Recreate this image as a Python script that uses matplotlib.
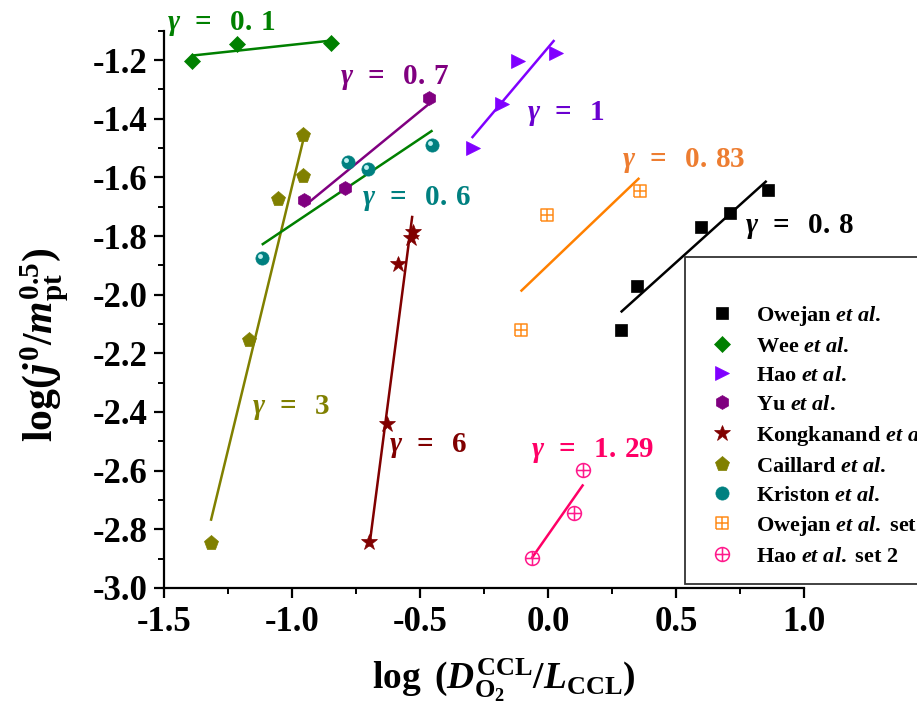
import matplotlib
matplotlib.use("Agg")
import matplotlib.pyplot as plt
import matplotlib.transforms as mtransforms
from matplotlib.path import Path
from matplotlib.patches import Rectangle
from matplotlib.lines import Line2D
from matplotlib.ticker import MultipleLocator, FormatStrFormatter

plt.rcParams["font.family"] = ["Liberation Serif", "DejaVu Serif"]
plt.rcParams["font.weight"] = "bold"
plt.rcParams["axes.unicode_minus"] = False
plt.rcParams["mathtext.fontset"] = "custom"
plt.rcParams["mathtext.rm"] = "Liberation Serif:bold"
plt.rcParams["mathtext.it"] = "Liberation Serif:italic:bold"
plt.rcParams["mathtext.bf"] = "Liberation Serif:bold"

# ---- measured data: x = log(D/L), y = log(j0/m^0.5) ----
owejan_x = [0.284, 0.346, 0.596, 0.711, 0.860]
owejan_y = [-2.120, -1.969, -1.771, -1.722, -1.643]
wee_x = [-1.392, -1.214, -0.849]
wee_y = [-1.204, -1.147, -1.141]
hao_x = [-0.294, -0.181, -0.116, 0.031]
hao_y = [-1.500, -1.351, -1.203, -1.177]
yu_x = [-0.953, -0.793, -0.465]
yu_y = [-1.676, -1.636, -1.329]
kong_x = [-0.699, -0.628, -0.585, -0.535, -0.529]
kong_y = [-2.842, -2.440, -1.895, -1.807, -1.788]
caillard_x = [-1.318, -1.168, -1.056, -0.956, -0.956]
caillard_y = [-2.848, -2.156, -1.674, -1.595, -1.455]
kriston_x = [-1.117, -0.780, -0.702, -0.454]
kriston_y = [-1.875, -1.546, -1.572, -1.489]
owejan2_x = [-0.107, -0.005, 0.359]
owejan2_y = [-2.122, -1.728, -1.646]
hao2_x = [-0.064, 0.103, 0.138]
hao2_y = [-2.899, -2.746, -2.598]

# fitted lines (end points)
owejan_fit_x, owejan_fit_y = [0.284, 0.854], [-2.060, -1.612]
wee_fit_x, wee_fit_y = [-1.392, -0.850], [-1.185, -1.134]
hao_fit_x, hao_fit_y = [-0.298, 0.025], [-1.466, -1.132]
yu_fit_x, yu_fit_y = [-0.945, -0.464], [-1.693, -1.349]
kong_fit_x, kong_fit_y = [-0.698, -0.530], [-2.859, -1.731]
caillard_fit_x, caillard_fit_y = [-1.317, -0.956], [-2.771, -1.473]
kriston_fit_x, kriston_fit_y = [-1.118, -0.451], [-1.830, -1.440]
owejan2_fit_x, owejan2_fit_y = [-0.107, 0.357], [-1.989, -1.602]
hao2_fit_x, hao2_fit_y = [-0.064, 0.138], [-2.899, -2.647]

gamma_labels = ["0.1", "0.7", "0.6", "1", "0.83", "0.8", "3", "6", "1.29"]
legend_names = ["Owejan", "Wee", "Hao", "Yu", "Kongkanand", "Caillard",
                "Kriston", "Owejan", "Hao"]
legend_suffix = ["", "", "", "", "", "", "", " set 2", " set 2"]

# ---- custom markers ----
M, L = Path.MOVETO, Path.LINETO
square_plus = Path(
    [(-1, -1), (1, -1), (1, 1), (-1, 1), (-1, -1), (0, -1), (0, 1), (-1, 0), (1, 0)],
    [M, L, L, L, L, M, L, M, L])
circle_plus = Path.make_compound_path(
    Path.unit_circle(),
    Path([(0, -1), (0, 1), (-1, 0), (1, 0)], [M, L, M, L]))

fig = plt.figure(figsize=(9.17, 7.12), dpi=100)
ax = fig.add_axes([0.1788, 0.1742, 0.6980, 0.7827])

lw = 1.8
styles = [
    # x, y, fit x, fit y, marker colour, line colour, marker, size, open
    (owejan_x, owejan_y, owejan_fit_x, owejan_fit_y, "black", "black", "s", 8.5, False),
    (wee_x, wee_y, wee_fit_x, wee_fit_y, "#008000", "#008000", "D", 8.5, False),
    (hao_x, hao_y, hao_fit_x, hao_fit_y, "#8000ff", "#8000ff", ">", 10.5, False),
    (yu_x, yu_y, yu_fit_x, yu_fit_y, "#800080", "#800080", "h", 10, False),
    (kong_x, kong_y, kong_fit_x, kong_fit_y, "#800000", "#800000", "*", 12, False),
    (caillard_x, caillard_y, caillard_fit_x, caillard_fit_y, "#808000", "#808000", "p", 11, False),
    (kriston_x, kriston_y, kriston_fit_x, kriston_fit_y, "#008080", "#008000", "o", 9.5, False),
    (owejan2_x, owejan2_y, owejan2_fit_x, owejan2_fit_y, "#ff8c1a", "#ff8000", square_plus, 8, True),
    (hao2_x, hao2_y, hao2_fit_x, hao2_fit_y, "#ff1a8c", "#ff0066", circle_plus, 10, True),
]

handles = []
for x, y, fx, fy, mc, lc, mk, ms, hollow in styles:
    ax.plot(fx, fy, color=lc, lw=lw, zorder=2, solid_capstyle="butt")
    kw = dict(marker=mk, markersize=ms, linestyle="none", zorder=3)
    if hollow:
        kw.update(markerfacecolor="none", markeredgecolor=mc, markeredgewidth=1.1)
    else:
        kw.update(markerfacecolor=mc, markeredgecolor=mc, markeredgewidth=0.5)
    ax.plot(x, y, clip_on=False, **kw)
    handles.append(Line2D([], [], **kw))

# glossy highlight on the spheres
hl = mtransforms.offset_copy(ax.transData, fig=fig, x=-1.3, y=1.3, units="points")
ax.plot(kriston_x, kriston_y, "o", ms=3.5, color="#bff0f0", mec="none",
        transform=hl, zorder=4, clip_on=False)

# slope annotations
label_pos = [(-1.488, -1.076), (-0.8125, -1.258), (-0.727, -1.673),
             (-0.082, -1.384), (0.289, -1.544), (0.770, -1.768),
             (-1.156, -2.384), (-0.621, -2.513), (-0.066, -2.530)]
label_col = ["#008000", "#800080", "#008080", "#6a00d0", "#ed7d31", "black",
             "#808000", "#800000", "#ff0066"]
for g, (tx, ty), c in zip(gamma_labels, label_pos, label_col):
    txt = r"$\gamma\ \,=\ \;%s$" % g.replace(".", r".\,")
    ax.text(tx, ty, txt, color=c, fontsize=21,
            ha="left", va="center", clip_on=False)

ax.set_xlim(-1.5, 1.0)
ax.set_ylim(-3.0, -1.1)
ax.xaxis.set_major_locator(MultipleLocator(0.5))
ax.xaxis.set_minor_locator(MultipleLocator(0.25))
ax.yaxis.set_major_locator(MultipleLocator(0.2))
ax.yaxis.set_minor_locator(MultipleLocator(0.1))
ax.xaxis.set_major_formatter(FormatStrFormatter("%.1f"))
ax.yaxis.set_major_formatter(FormatStrFormatter("%.1f"))
for s in ["top", "right"]:
    ax.spines[s].set_visible(False)
for s in ["left", "bottom"]:
    ax.spines[s].set_linewidth(1.6)
ax.tick_params(which="major", direction="out", length=7, width=1.6,
               labelsize=25, pad=5)
ax.tick_params(which="minor", direction="out", length=4, width=1.4)
ax.tick_params(axis="x", which="major", pad=6)

fig.text(0.049, 0.515, r"$\log(j^{0}/m_{\rm pt}^{0.5})$", rotation=90,
         ha="center", va="center", fontsize=30)
fig.text(0.549, 0.045, r"$\log\ (D_{\rm O_2}^{\rm CCL}/L_{\rm CCL})$",
         ha="center", va="center", fontsize=27)

# legend box running off the right edge
box = Rectangle((685 / 917, 1 - 584 / 712), 0.3, (584 - 257) / 712,
                transform=fig.transFigure, facecolor="white",
                edgecolor="#333333", lw=1.3, zorder=5)
fig.add_artist(box)
labels = [r"%s $\mathit{et\ al.}$%s" % (n, s) for n, s in zip(legend_names, legend_suffix)]
leg = fig.legend(handles, labels, loc="upper left",
                 bbox_to_anchor=(0.7633, 1 - 293 / 712), frameon=False,
                 fontsize=16, handlelength=1.0, handletextpad=1.0,
                 labelspacing=0.38, borderpad=0.0)
leg.set_zorder(6)

fig.savefig("out.png", dpi=100)
